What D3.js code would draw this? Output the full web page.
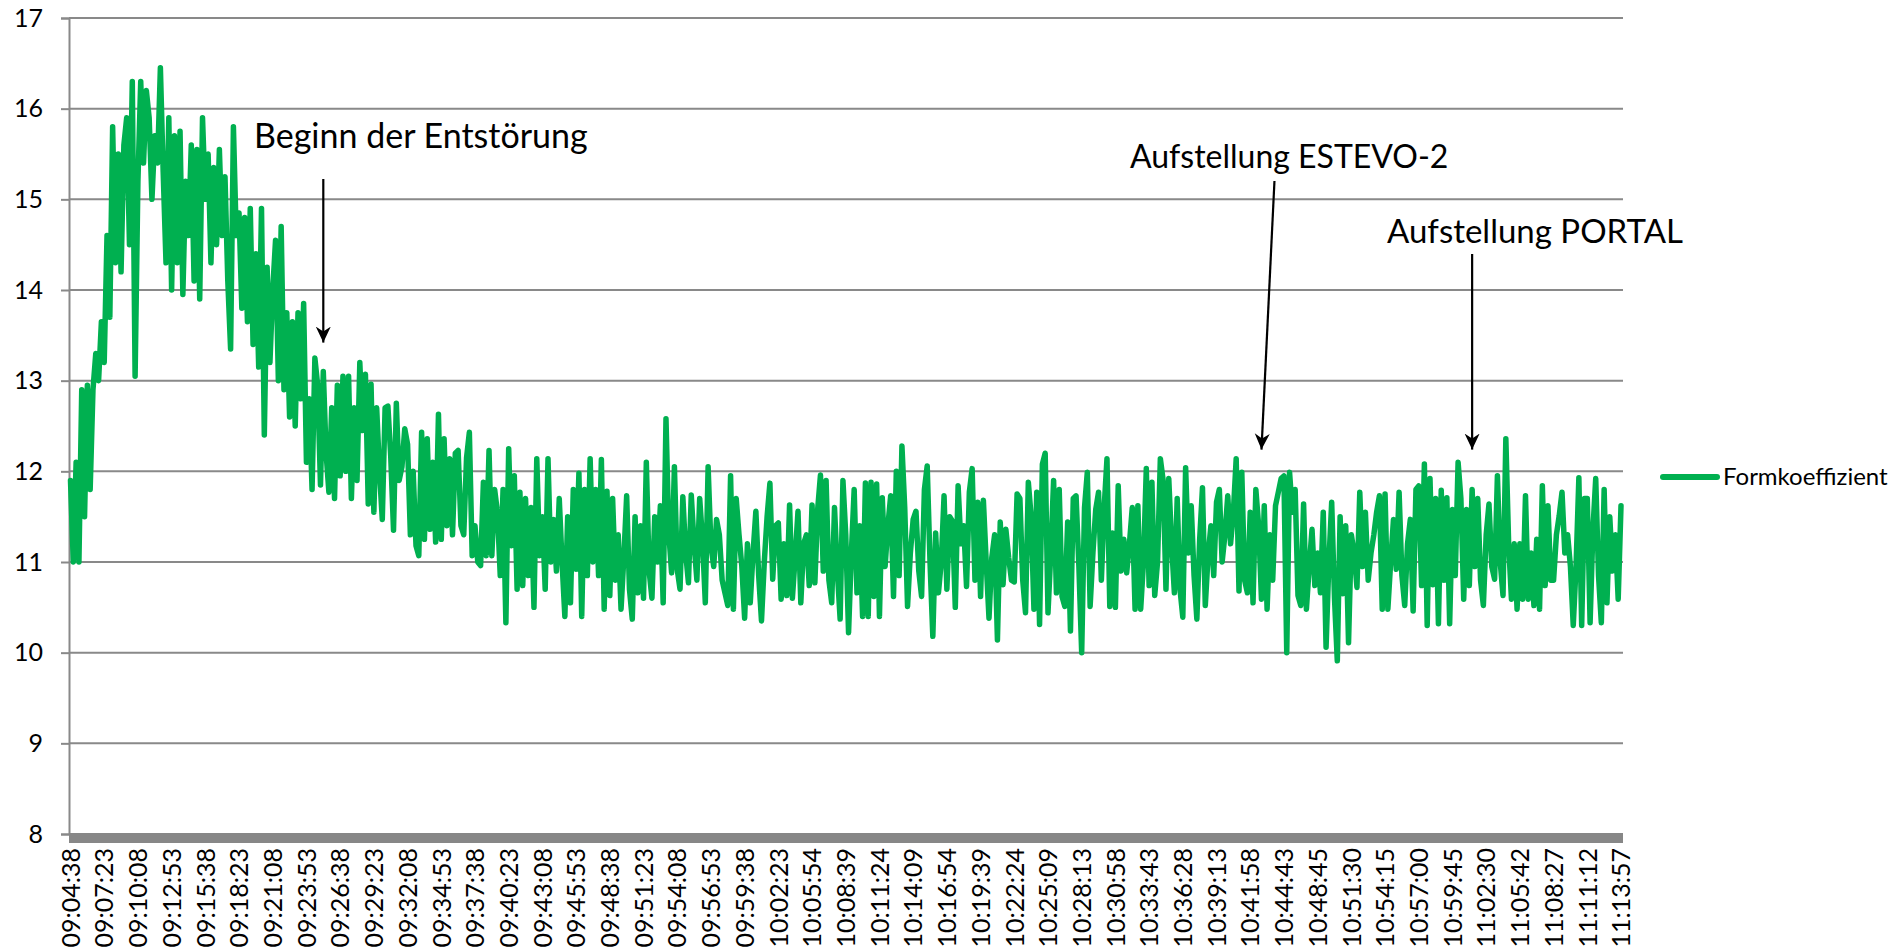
<!DOCTYPE html>
<html>
<head>
<meta charset="utf-8">
<script src="https://cdn.jsdelivr.net/npm/d3@7"></script>
<style>
  html, body { margin: 0; padding: 0; background: #fff; }
  svg { display: block; }
  text { font-family: Lato, "Open Sans", sans-serif; fill: #000; }
</style>
</head>
<body>
<svg id="chart" width="1895" height="950"></svg>
<script>
// ---------------- DATA ----------------
const seriesName = "Formkoeffizient";
const yTicks = [8, 9, 10, 11, 12, 13, 14, 15, 16, 17];
const timeLabels = [
  "09:04:38","09:07:23","09:10:08","09:12:53","09:15:38","09:18:23","09:21:08","09:23:53",
  "09:26:38","09:29:23","09:32:08","09:34:53","09:37:38","09:40:23","09:43:08","09:45:53",
  "09:48:38","09:51:23","09:54:08","09:56:53","09:59:38","10:02:23","10:05:54","10:08:39",
  "10:11:24","10:14:09","10:16:54","10:19:39","10:22:24","10:25:09","10:28:13","10:30:58",
  "10:33:43","10:36:28","10:39:13","10:41:58","10:44:43","10:48:45","10:51:30","10:54:15",
  "10:57:00","10:59:45","11:02:30","11:05:42","11:08:27","11:11:12","11:13:57"
];
const pointsPerLabel = 12;
const values = [
  11.9,11.0,12.1,11.0,12.9,11.5,12.95,11.8,12.9,13.3,13.0,13.65,
  13.2,14.6,13.7,15.8,14.3,15.5,14.2,15.6,15.9,14.5,16.3,13.05,
  15.2,16.3,15.4,16.2,15.9,15.0,15.7,15.4,16.45,15.3,14.3,15.9,
  14.0,15.7,14.3,15.75,13.95,15.2,14.6,15.6,14.1,15.55,13.9,15.9,
  15.0,15.5,14.3,15.35,14.5,15.55,14.6,15.25,14.1,13.35,15.8,14.6,
  14.85,13.8,14.8,13.65,14.9,13.4,14.4,13.15,14.9,12.4,14.25,13.2,
  14.0,14.55,13.0,14.7,12.9,13.75,12.6,13.65,12.5,13.75,12.8,13.85,
  12.1,12.8,11.8,13.25,12.95,11.85,13.1,12.2,11.77,12.7,11.7,12.95,
  11.95,13.05,12.0,13.05,11.7,12.7,11.9,13.2,12.45,13.07,11.64,12.96,
  11.55,12.7,12.0,11.47,12.7,12.72,12.17,11.35,12.75,11.9,12.05,12.47,
  12.3,11.3,12.0,11.18,11.07,12.43,11.25,12.36,11.36,12.1,11.22,12.63,
  11.25,12.36,11.4,12.14,11.3,12.2,12.23,11.4,11.3,12.15,12.43,11.07,
  11.4,11.0,10.96,11.88,11.07,12.23,11.07,11.8,11.55,10.85,11.8,10.33,
  12.25,11.18,11.95,10.7,11.77,10.74,11.7,10.85,11.6,10.5,12.14,11.07,
  11.5,10.7,12.14,11.0,11.47,10.9,11.7,11.0,10.4,11.5,10.55,11.8,
  10.92,11.98,10.4,11.8,10.85,12.14,11.0,11.8,10.85,12.13,10.48,11.78,
  10.63,11.7,10.8,11.3,10.48,11.05,11.73,10.7,10.37,11.5,10.66,11.4,
  10.6,12.1,10.9,10.6,11.5,11.0,11.62,10.55,12.58,11.32,10.88,12.05,
  10.92,10.7,11.72,11.1,10.77,11.74,11.2,10.8,11.7,11.25,10.55,12.05,
  11.18,10.95,11.47,11.3,10.8,10.66,10.52,11.95,10.48,11.7,11.3,10.95,
  10.38,11.2,10.55,11.1,11.56,10.85,10.35,11.0,11.5,11.87,10.81,11.4,
  11.43,10.59,11.2,10.63,11.63,10.6,11.06,11.56,10.55,11.2,11.3,10.74,
  11.63,10.77,11.58,11.96,10.9,11.9,10.8,10.55,11.6,10.9,10.37,11.9,
  11.3,10.22,11.1,11.8,10.66,11.4,10.4,11.87,10.4,11.88,10.62,11.86,
  10.4,11.71,10.95,11.4,11.73,10.62,12.0,10.85,12.28,11.6,10.51,11.1,
  11.47,11.56,10.9,10.62,11.8,12.06,11.0,10.18,11.32,10.66,11.0,11.73,
  10.7,11.5,11.45,10.5,11.84,11.2,11.4,10.73,11.77,12.03,10.8,11.66,
  10.62,11.68,11.0,10.38,11.05,11.3,10.14,11.44,10.75,11.36,11.05,10.8,
  10.78,11.75,11.7,10.8,10.44,11.88,11.5,10.48,11.77,10.31,12.08,12.2,
  10.44,11.1,11.9,10.66,11.8,10.62,10.51,11.44,10.24,11.7,11.73,10.95,
  10.0,11.6,11.99,10.51,11.1,11.58,11.77,10.8,11.6,12.14,10.51,11.32,
  10.5,11.84,10.9,11.25,10.88,11.2,11.6,10.48,11.62,10.48,11.0,12.03,
  10.74,11.88,10.63,11.0,12.14,11.9,10.7,11.92,11.2,10.66,11.7,10.7,
  10.39,12.04,11.1,11.62,10.85,10.37,11.25,11.82,10.52,11.07,11.4,10.85,
  11.66,11.8,11.0,11.3,11.73,11.2,11.55,12.14,10.68,11.99,10.8,10.66,
  11.55,10.55,11.8,11.4,10.59,11.62,10.48,11.3,10.8,11.62,11.77,11.92,
  11.95,10.0,11.99,11.55,11.8,10.63,10.52,11.64,10.48,10.95,11.36,10.74,
  11.1,10.66,11.55,10.06,11.0,11.66,10.6,9.91,11.5,10.65,11.4,10.11,
  11.3,11.1,10.72,11.77,10.95,11.55,10.8,11.1,11.3,11.55,11.73,10.48,
  11.75,10.48,11.0,11.47,10.92,11.77,10.85,10.52,11.2,11.47,10.46,11.8,
  11.84,10.74,12.08,10.3,11.92,10.75,11.7,10.32,11.79,10.8,11.71,10.32,
  11.58,10.85,12.1,11.7,10.59,11.58,10.74,11.8,10.95,11.7,10.8,10.52,
  11.3,11.64,10.95,10.81,11.95,11.0,10.63,12.36,11.2,10.59,11.2,10.48,
  11.2,10.59,11.73,10.59,11.1,10.52,11.25,10.48,11.84,10.74,11.62,10.8,
  10.8,11.3,11.51,11.77,11.1,11.3,10.95,10.3,10.95,11.93,10.3,11.7,
  11.7,10.33,11.35,11.92,10.85,10.33,11.8,10.55,11.5,10.9,11.3,10.59,
  11.62
];
// annotations: text, arrow target (data index, value)
const annotationTexts = ["Beginn der Entstörung", "Aufstellung ESTEVO-2", "Aufstellung PORTAL"];
const annotationIndex = [90, 424, 499];
const annotationValue = [13.42, 12.24, 12.24];

// ---------------- LAYOUT ----------------
const svg = d3.select("#chart");
const plotLeft = 69, plotRight = 1623, plotTop = 18, plotBottom = 834;
const green = "#00B050", gray = "#898989";

const x = d3.scaleLinear().domain([0, values.length - 1]).range([70.5, 1621]);
const y = d3.scaleLinear().domain([8, 17]).range([plotBottom, plotTop]);

// gridlines
svg.append("g").selectAll("line").data(yTicks).join("line")
  .attr("x1", plotLeft).attr("x2", plotRight)
  .attr("y1", d => y(d)).attr("y2", d => y(d))
  .attr("stroke", gray).attr("stroke-width", 2);

// y axis
const yAxis = svg.append("g").attr("transform", `translate(${plotLeft},0)`)
  .call(d3.axisLeft(y).tickValues(yTicks).tickSize(8).tickPadding(18).tickFormat(d3.format("d")));
yAxis.select(".domain").attr("stroke", gray).attr("stroke-width", 2);
yAxis.selectAll(".tick line").attr("stroke", gray).attr("stroke-width", 2);
yAxis.selectAll(".tick text").style("font-family", "Lato, sans-serif").style("font-size", "25px").attr("fill", "#000");

// x axis thick band (dense category tick marks)
svg.append("rect").attr("x", plotLeft).attr("y", plotBottom - 1)
  .attr("width", plotRight - plotLeft).attr("height", 10).attr("fill", "#878787");

const labelIdx = timeLabels.map((_, i) => i * pointsPerLabel);
const xAxis = svg.append("g").attr("transform", `translate(0,${plotBottom + 9})`)
  .call(d3.axisBottom(x).tickValues(labelIdx).tickSize(0)
    .tickFormat(d => timeLabels[d / pointsPerLabel]));
xAxis.select(".domain").remove();
xAxis.selectAll(".tick text")
  .style("font-family", "Lato, sans-serif").style("font-size", "25px").attr("fill", "#000")
  .attr("text-anchor", "end")
  .attr("transform", "rotate(-90)")
  .attr("x", -5).attr("y", 0).attr("dy", "0.35em");

// series line
const line = d3.line().x((d, i) => x(i)).y(d => y(d));
svg.append("path").datum(values)
  .attr("d", line).attr("fill", "none")
  .attr("stroke", green).attr("stroke-width", 5.5)
  .attr("stroke-linejoin", "round").attr("stroke-linecap", "round");

// legend
const lg = svg.append("g").attr("transform", "translate(1663,477)");
lg.append("line").attr("x1", 0).attr("x2", 54).attr("y1", 0).attr("y2", 0)
  .attr("stroke", green).attr("stroke-width", 6).attr("stroke-linecap", "round");
lg.append("text").attr("x", 60).attr("y", 0).attr("dy", "0.35em")
  .style("font-size", "24px").text(seriesName);

// arrow marker
svg.append("defs").append("marker")
  .attr("id", "arrow").attr("markerUnits", "userSpaceOnUse")
  .attr("viewBox", "-16 -8 17 16").attr("refX", 0).attr("refY", 0)
  .attr("markerWidth", 17).attr("markerHeight", 16).attr("orient", "auto")
  .append("path").attr("d", "M0,0 L-16,-7.5 L-11,0 L-16,7.5 Z").attr("fill", "#000");

// annotations
const arrowTops = [179, 181, 254];
const arrowTopDx = [0, 13, 0];
const textPos = [[254, 148], [1130, 168], [1387, 243]];
const textSize = [34, 32, 33];
annotationTexts.forEach((t, i) => {
  const tx = x(annotationIndex[i]), ty = y(annotationValue[i]);
  svg.append("line")
    .attr("x1", tx + arrowTopDx[i]).attr("y1", arrowTops[i])
    .attr("x2", tx).attr("y2", ty)
    .attr("stroke", "#000").attr("stroke-width", 2.2)
    .attr("marker-end", "url(#arrow)");
  svg.append("text").attr("x", textPos[i][0]).attr("y", textPos[i][1])
    .style("font-size", textSize[i] + "px").text(t);
});
</script>
</body>
</html>
